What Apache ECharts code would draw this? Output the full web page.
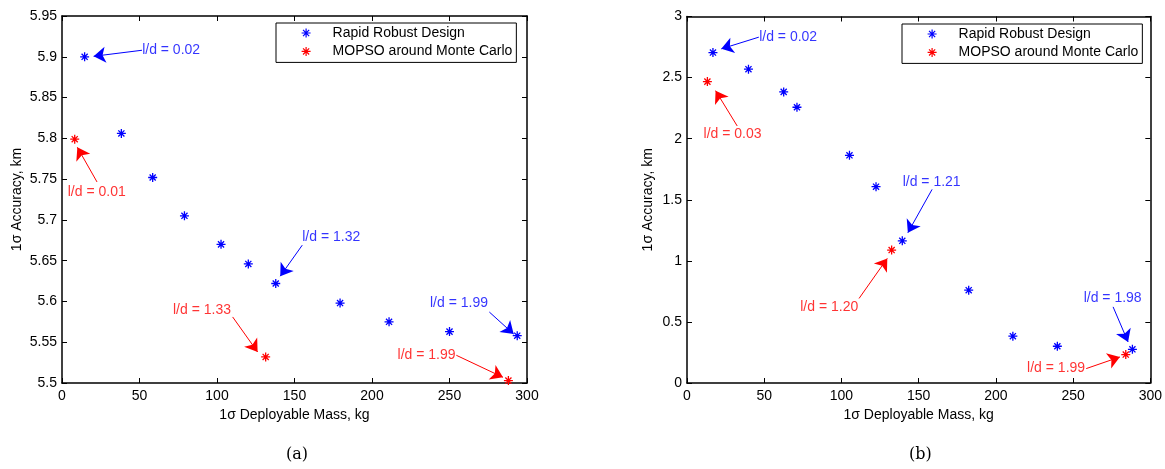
<!DOCTYPE html>
<html>
<head>
<meta charset="utf-8">
<script src="https://cdn.jsdelivr.net/npm/echarts@6/dist/echarts.min.js"></script>
<style>
  html, body { margin: 0; padding: 0; background: #ffffff; }
  #chart { width: 1165px; height: 469px; }
</style>
</head>
<body>
<div id="chart"></div>
<script>
// panel (a): 1-sigma deployable mass (kg) vs 1-sigma accuracy (km)
const massA_rrd = [14.6, 38.3, 58.5, 79.0, 102.6, 120.2, 137.9, 179.4, 211, 250, 293.7];
const accA_rrd = [5.900, 5.806, 5.752, 5.705, 5.670, 5.646, 5.622, 5.598, 5.575, 5.563, 5.558];
const massA_mc = [8.2, 131.4, 288];
const accA_mc = [5.799, 5.532, 5.503];

// panel (b)
const massB_rrd = [16.8, 39.8, 62.6, 71.2, 105.2, 122.4, 139.4, 182.4, 211, 239.8, 288.4];
const accB_rrd = [2.705, 2.569, 2.383, 2.257, 1.864, 1.607, 1.164, 0.760, 0.383, 0.301, 0.276];
const massB_mc = [13.2, 132.5, 284.1];
const accB_mc = [2.467, 1.088, 0.233];

const seriesNames = ["Rapid Robust Design", "MOPSO around Monte Carlo"];
const xTicks = [0, 300, 50];
const yTicksA = [5.5, 5.95, 0.05];
const yTicksB = [0, 3, 0.5];

// annotations: text, series (0 = rrd, 1 = mc), text centre, arrow tail, arrow tip (data units)
const notesA = [
  ["l/d = 0.02", 0, [70.4, 5.908], [51.6, 5.908], [20.4, 5.9006]],
  ["l/d = 0.01", 1, [22.4, 5.734], [22.6, 5.7465], [9.9, 5.789]],
  ["l/d = 1.32", 0, [173.7, 5.6787], [155, 5.669], [140.8, 5.631]],
  ["l/d = 1.33", 1, [90.3, 5.589], [110.1, 5.581], [126.2, 5.538]],
  ["l/d = 1.99", 0, [256.1, 5.598], [275.7, 5.587], [291.4, 5.560]],
  ["l/d = 1.99", 1, [235.2, 5.534], [254.4, 5.534], [284.5, 5.507]]
];
const notesB = [
  ["l/d = 0.02", 0, [65.5, 2.831], [46.5, 2.831], [22.2, 2.735]],
  ["l/d = 0.03", 1, [29.5, 2.036], [32.5, 2.104], [18.5, 2.393]],
  ["l/d = 1.21", 0, [158.4, 1.648], [158.7, 1.585], [143.0, 1.230]],
  ["l/d = 1.20", 1, [92.1, 0.618], [111.4, 0.692], [129.7, 1.020]],
  ["l/d = 1.98", 0, [275.6, 0.692], [275.9, 0.623], [285.6, 0.336]],
  ["l/d = 1.99", 1, [239.0, 0.118], [258.5, 0.118], [280.3, 0.213]]
];

const COLORS = ["#0000ff", "#ff0000"];
const FONT = "'Liberation Sans', Arial, Helvetica, sans-serif";
const ASTERISK = "path://M5 0L5 10M0 5L10 5M1.6 1.6L8.4 8.4M8.4 1.6L1.6 8.4";

function zip(xs, ys) {
  return xs.map((x, i) => [x, ys[i]]);
}

function axisPair(kind, gridIndex, ticks, showLabels, name, nameGap) {
  const [min, max, interval] = ticks;
  const base = {
    type: "value",
    gridIndex,
    min,
    max,
    interval,
    splitLine: { show: false },
    axisLine: { show: true, onZero: false, lineStyle: { color: "#000", width: 1.5 } },
    axisTick: { show: true, inside: true, length: 5, lineStyle: { color: "#000", width: 1 } }
  };
  const main = Object.assign({}, base, {
    position: kind === "x" ? "bottom" : "left",
    name,
    nameLocation: "middle",
    nameGap,
    nameTextStyle: { color: "#000", fontSize: 14, fontFamily: FONT },
    axisLabel: {
      show: showLabels,
      color: "#000",
      fontSize: 14,
      fontFamily: FONT,
      margin: kind === "x" ? 6 : 5
    }
  });
  const mirror = Object.assign({}, base, {
    position: kind === "x" ? "top" : "right",
    axisLabel: { show: false }
  });
  return [main, mirror];
}

function pointSeries(name, data, axisIndex, color) {
  return {
    name,
    type: "scatter",
    xAxisIndex: axisIndex,
    yAxisIndex: axisIndex,
    symbol: ASTERISK,
    symbolSize: 9,
    itemStyle: { color, borderColor: color, borderWidth: 1.3, opacity: 1 },
    data,
    z: 5
  };
}

function noteSeries(notes, axisIndex) {
  return {
    name: "notes",
    type: "scatter",
    xAxisIndex: axisIndex,
    yAxisIndex: axisIndex,
    symbolSize: 0,
    silent: true,
    data: notes.map(n => ({
      value: n[2],
      name: n[0],
      label: {
        show: true,
        position: "inside",
        formatter: "{b}",
        color: COLORS[n[1]],
        fontSize: 14,
        fontFamily: FONT
      }
    })),
    markLine: {
      silent: true,
      animation: false,
      symbol: ["none", "arrow"],
      symbolSize: 12,
      label: { show: false },
      data: notes.map(n => [
        {
          coord: n[3],
          lineStyle: { color: COLORS[n[1]], width: 1, type: "solid" },
          itemStyle: { color: COLORS[n[1]] }
        },
        { coord: n[4] }
      ])
    }
  };
}

function legendBox(left, top) {
  return {
    orient: "vertical",
    left,
    top,
    data: seriesNames.map((n, i) => ({
      name: n,
      icon: ASTERISK,
      itemStyle: { color: COLORS[i], borderColor: COLORS[i], borderWidth: 1.2 }
    })),
    itemWidth: 9,
    itemHeight: 9,
    itemGap: 2.4,
    padding: [2, 4, 3, 25],
    borderColor: "#000",
    borderWidth: 1,
    backgroundColor: "#fff",
    selectedMode: false,
    textStyle: { color: "#000", fontSize: 14, fontFamily: FONT, lineHeight: 16, padding: [0, 0, 0, 17] }
  };
}

function buildOption() {
  const [xa, xaTop] = axisPair("x", 0, xTicks, true, "1σ Deployable Mass, kg", 21);
  const [xb, xbTop] = axisPair("x", 1, xTicks, true, "1σ Deployable Mass, kg", 21);
  const [ya, yaRight] = axisPair("y", 0, yTicksA, true, "1σ Accuracy, km", 38);
  const [yb, ybRight] = axisPair("y", 1, yTicksB, true, "1σ Accuracy, km", 32);

  return {
    animation: false,
    backgroundColor: "#ffffff",
    textStyle: { fontFamily: FONT },
    grid: [
      { left: 62, top: 16, width: 465, height: 367, containLabel: false },
      { left: 687, top: 16.5, width: 465, height: 366.5, containLabel: false }
    ],
    xAxis: [xa, xb, xaTop, xbTop],
    yAxis: [ya, yb, yaRight, ybRight],
    legend: [legendBox(276, 23), legendBox(902, 24)],
    series: [
      pointSeries(seriesNames[0], zip(massA_rrd, accA_rrd), 0, COLORS[0]),
      pointSeries(seriesNames[1], zip(massA_mc, accA_mc), 0, COLORS[1]),
      noteSeries(notesA, 0),
      pointSeries(seriesNames[0], zip(massB_rrd, accB_rrd), 1, COLORS[0]),
      pointSeries(seriesNames[1], zip(massB_mc, accB_mc), 1, COLORS[1]),
      noteSeries(notesB, 1)
    ],
    graphic: [
      {
        type: "text",
        left: 286,
        top: 447,
        style: { text: "(a)", fill: "#000", fontSize: 16, fontFamily: "'DejaVu Serif', 'Liberation Serif', serif" }
      },
      {
        type: "text",
        left: 909,
        top: 447,
        style: { text: "(b)", fill: "#000", fontSize: 16, fontFamily: "'DejaVu Serif', 'Liberation Serif', serif" }
      }
    ]
  };
}

const chart = echarts.init(document.getElementById("chart"), null, { renderer: "canvas" });
chart.setOption(buildOption());
</script>
</body>
</html>
